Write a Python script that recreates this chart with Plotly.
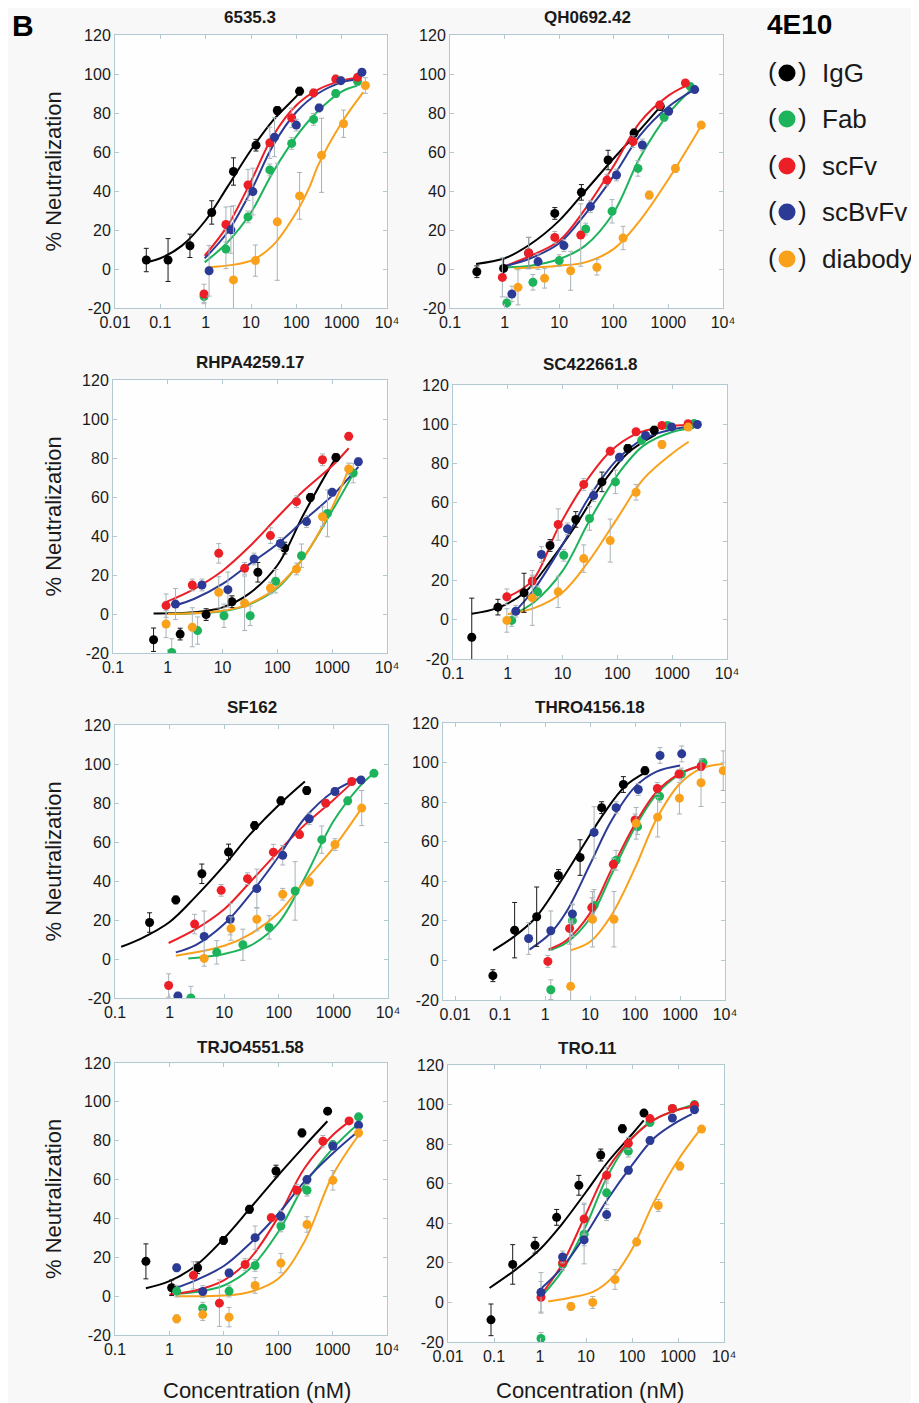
import plotly.graph_objects as go

W, H = 919, 1403
PAGE_OFFSET = 8  # default body margin of the html page
SERIES = ["IgG", "Fab", "scFv", "scBvFv", "diabody"]
COLORS = {"IgG": "#000000", "Fab": "#1db35b", "scFv": "#ec1f27",
          "scBvFv": "#2b3a94", "diabody": "#f9a11b"}
TITLES = ["6535.3", "QH0692.42", "RHPA4259.17", "SC422661.8",
          "SF162", "THRO4156.18", "TRJO4551.58", "TRO.11"]
Y_TICKS = [-20, 0, 20, 40, 60, 80, 100, 120]
Y_TICKTEXT = ["-20", "0", "20", "40", "60", "80", "100", "120"]
X_TICKS = [0.01, 0.1, 1, 10, 100, 1000, 10000]
X_TICKTEXT = ["0.01", "0.1", "1", "10", "100", "1000", "10\u2074"]

# ---------------- Panel 1: 6535.3 ----------------
P1_X = {"IgG": [0.049, 0.148, 0.45, 1.36, 4.1, 12.9, 38, 118],
        "Fab": [0.92, 2.8, 8.6, 26, 79, 240, 740, 2240],
        "scFv": [0.92, 2.8, 8.6, 26, 79, 240, 740, 2240],
        "scBvFv": [1.19, 3.6, 11, 33, 100, 318, 960, 2800],
        "diabody": [4.1, 12.5, 38, 118, 360, 1100, 3330]}
P1_Y = {"IgG": [4.6, 4.6, 11.9, 29, 50, 63.5, 81.3, 91.2],
        "Fab": [-14.1, 10.2, 26.7, 50.8, 64.4, 76.7, 90, 96.3],
        "scFv": [-12.8, 22.8, 43.1, 64.7, 77.5, 90.3, 97.4, 98.3],
        "scBvFv": [-0.9, 20.1, 39.7, 67.6, 73.8, 82.6, 96.6, 100.9],
        "diabody": [-5.6, 4.3, 24.2, 37.5, 58.3, 74.5, 94.1]}
P1_E = {"IgG": [6, 11, 6, 6, 7, 3, 2, 2],
        "Fab": [3, 10, 3, 3, 3, 3, 2, 2],
        "scFv": [5, 9, 8, 8, 5, 2, 2, 1],
        "scBvFv": [13, 12, 12, 10, 3, 2, 2, 1],
        "diabody": [38, 8, 30, 12, 19, 7, 4]}
P1_CX = {"IgG": [0.05, 0.1, 0.3, 1, 3, 10, 30, 100, 118],
         "Fab": [0.95, 3, 10, 30, 100, 300, 1000, 2200],
         "scFv": [0.95, 3, 10, 30, 100, 300, 1000, 2000],
         "scBvFv": [0.95, 3, 10, 30, 100, 300, 1000, 2500],
         "diabody": [1.1, 10, 30, 100, 200, 300, 1000, 3000]}
P1_CY = {"IgG": [3.5, 5.5, 12, 25, 42, 61, 76, 88.5, 90.5],
         "Fab": [3.4, 13.6, 29, 49.4, 68, 81, 91, 94],
         "scFv": [6.8, 22, 45, 68, 84, 92, 96.6, 98],
         "scBvFv": [5.5, 18.7, 40, 63, 80.5, 90, 95.7, 97.4],
         "diabody": [0.9, 4.3, 12, 29, 42.6, 53, 75, 90.7]}

# ---------------- Panel 2: QH0692.42 ----------------
P2_X = {"IgG": [0.31, 0.96, 2.76, 8.3, 25.5, 78.5, 235, 710],
        "Fab": [1.1, 3.3, 10, 30.6, 93, 277, 835, 2525],
        "scFv": [0.91, 2.76, 8.3, 24.8, 75, 225, 695, 2050],
        "scBvFv": [1.36, 4.1, 12.2, 37.3, 112, 333, 1010, 3030],
        "diabody": [1.76, 5.4, 16.2, 49, 148, 445, 1345, 4000]}
P2_Y = {"IgG": [-1.4, 0.3, 8.2, 28.5, 39.3, 55.9, 69.7, 83.4],
        "Fab": [-17.4, -6.8, 4.3, 20.5, 29.6, 51.6, 77.8, 93.5],
        "scFv": [-4.3, 8.2, 16.2, 17.4, 45.6, 65.3, 84.1, 95.4],
        "scBvFv": [-12.8, 3.8, 12, 32, 48.2, 63.6, 80.9, 92],
        "diabody": [-9.4, -4.8, -0.9, 0.9, 15.9, 37.9, 51.6, 73.8]}
P2_E = {"IgG": [3, 5, 8, 3, 4, 5, 2, 2],
        "Fab": [3, 4, 3, 3, 6, 4, 2, 2],
        "scFv": [10, 8, 3, 16, 3, 3, 2, 1],
        "scBvFv": [4, 4, 3, 3, 3, 3, 2, 1],
        "diabody": [9, 5, 10, 4, 6, 2, 2, 1]}
P2_CX = {"IgG": [0.3, 1, 3, 10, 30, 100, 300, 700],
         "Fab": [1, 3, 10, 30, 100, 300, 1000, 2500],
         "scFv": [1, 3, 10, 30, 100, 300, 1000, 2000],
         "scBvFv": [1, 3, 10, 30, 100, 300, 1000, 3000],
         "diabody": [1.5, 10, 30, 100, 300, 1000, 4000]}
P2_CY = {"IgG": [2.6, 5.5, 12.8, 24.8, 40, 56.8, 71.3, 83],
         "Fab": [0.9, 1.7, 5.1, 12, 29, 57, 79.5, 91.5],
         "scFv": [1.4, 6.8, 14.5, 30.8, 53, 75.2, 88.9, 93.7],
         "scBvFv": [1.4, 5.5, 13.2, 28.2, 47.9, 68.4, 83.2, 92],
         "diabody": [0.3, 1.7, 3.4, 10.3, 24.8, 46, 73.5]}

# ---------------- Panel 3: RHPA4259.17 ----------------
P3_X = {"IgG": [0.55, 1.68, 5.0, 14.8, 44, 136, 400, 1170],
        "Fab": [1.18, 3.5, 10.6, 31.9, 93, 275, 820, 2420],
        "scFv": [0.93, 2.8, 8.5, 25.2, 74.6, 223, 665, 2000],
        "scBvFv": [1.38, 4.2, 12.5, 37.5, 113, 340, 1000, 3000],
        "diabody": [0.93, 2.8, 8.5, 25.2, 74.6, 223, 665, 2000]}
P3_Y = {"IgG": [-13.2, -10.3, -0.3, 6.3, 21.4, 33.8, 59.8, 80.3],
        "Fab": [-19.7, -8.5, -0.9, -0.9, 16.8, 29.9, 51.6, 72.3],
        "scFv": [4.3, 14.9, 31.1, 23.4, 40.2, 57.6, 79.1, 91.1],
        "scBvFv": [5.1, 14.9, 12.5, 28.2, 36.2, 47.4, 62.4, 78.1],
        "diabody": [-5.1, -6.8, 11.1, 5.5, 13.3, 23.1, 49.9, 74.4]}
P3_E = {"IgG": [6, 3, 3, 3, 5, 3, 2, 2],
        "Fab": [7, 7, 6, 5, 6, 6, 12, 5],
        "scFv": [6, 3, 5, 3, 4, 3, 3, 2],
        "scBvFv": [8, 3, 9, 3, 3, 3, 2, 2],
        "diabody": [7, 10, 8, 14, 3, 3, 5, 3]}
P3_CX = {"IgG": [0.55, 3, 10, 30, 100, 300, 1000, 1200],
         "Fab": [1, 10, 30, 100, 300, 1000, 2500],
         "scFv": [0.9, 3, 10, 30, 100, 300, 1000, 2000],
         "scBvFv": [1.3, 3, 10, 30, 100, 300, 1000, 3000],
         "diabody": [1, 10, 30, 100, 300, 1000, 2000]}
P3_CY = {"IgG": [0.3, 0.9, 3.4, 10.3, 25, 51, 77, 80.3],
         "Fab": [0, 1.4, 4.8, 13.3, 29, 53, 72.6],
         "scFv": [6, 12.8, 22.2, 34.2, 49.6, 63.2, 76, 85],
         "scBvFv": [4.3, 7.7, 15.4, 25.3, 35.9, 47.9, 60.7, 75.5],
         "diabody": [0, 1.7, 5.1, 14, 29, 54.7, 74.4]}

# ---------------- Panel 4: SC422661.8 ----------------
P4_X = {"IgG": [0.22, 0.66, 1.98, 5.9, 17.4, 52.2, 155, 470],
        "Fab": [1.18, 3.5, 10.5, 31, 92, 277, 825, 2500],
        "scFv": [0.96, 2.8, 8.3, 24.3, 74, 219, 650, 1950],
        "scBvFv": [1.4, 4.1, 12.3, 36.8, 109, 326, 980, 2880],
        "diabody": [0.96, 2.8, 8.3, 24.3, 74, 219, 650, 1950]}
P4_Y = {"IgG": [-8.9, 6.5, 13.8, 38, 51.3, 70.5, 87.6, 96.9],
        "Fab": [-0.3, 14.3, 33, 51.8, 70.5, 91.8, 99.3, 100.3],
        "scFv": [11.8, 19.8, 48.7, 69.2, 86.2, 96.1, 99.3, 100.2],
        "scBvFv": [4.4, 33.4, 46.5, 63.5, 83.1, 94.2, 98.6, 99.8],
        "diabody": [-0.3, 11.2, 14.3, 31.3, 40.5, 65.2, 89.6, 98.5]}
P4_E = {"IgG": [20, 4, 10, 3, 4, 5, 2, 2],
        "Fab": [3, 3, 3, 6, 6, 2, 1, 1],
        "scFv": [4, 3, 8, 3, 2, 1, 1, 1],
        "scBvFv": [3, 4, 3, 3, 2, 1, 1, 1],
        "diabody": [6, 14, 8, 7, 11, 4, 2, 1]}
P4_CX = {"IgG": [0.22, 0.66, 2, 6, 17, 52, 155, 500],
         "Fab": [1.2, 3, 10, 30, 100, 300, 1000, 2500],
         "scFv": [0.96, 2.8, 8.3, 24.3, 74, 219, 650, 2000],
         "scBvFv": [1.2, 3, 10, 30, 100, 300, 1000, 3000],
         "diabody": [1, 3, 10, 30, 100, 300, 1000, 2000]}
P4_CY = {"IgG": [3.1, 6.1, 13.8, 30, 47.9, 69.2, 85.3, 94.7],
         "Fab": [2.5, 9, 25, 50, 74, 89, 96, 98],
         "scFv": [11.5, 20, 47, 69, 86, 95, 98.5, 99.5],
         "scBvFv": [2.7, 15.5, 38.5, 62.4, 82, 92.5, 97.3, 99],
         "diabody": [3, 6, 14, 30, 52, 72, 85, 91]}

# ---------------- Panel 5: SF162 ----------------
P5_X = {"IgG": [0.43, 1.3, 3.9, 12, 36, 109, 325],
        "Fab": [2.45, 7.3, 22, 66.6, 199, 612, 1830, 5530],
        "scFv": [0.96, 2.87, 8.8, 26.7, 79.6, 240, 725, 2170],
        "scBvFv": [1.42, 4.3, 12.9, 39.6, 118, 360, 1070, 3200],
        "diabody": [4.3, 13.3, 39.6, 118, 363, 1070, 3300]}
P5_Y = {"IgG": [18.7, 30.3, 43.7, 54.9, 68.4, 81.1, 86.4],
        "Fab": [-20, 3.4, 7.3, 16.2, 34.9, 61.2, 81.1, 95.2],
        "scFv": [-13.6, 17.9, 35.2, 41.2, 54.8, 63.8, 79.9, 91],
        "scBvFv": [-19, 11.6, 20.4, 36.1, 53.2, 71.9, 85.9, 91.8],
        "diabody": [0.3, 15.6, 20.4, 33.2, 39.5, 58.7, 77.4]}
P5_E = {"IgG": [5, 2, 5, 4, 2, 2, 2],
        "Fab": [6, 6, 8, 6, 15, 7, 2, 1],
        "scFv": [6, 5, 3, 3, 4, 2, 2, 1],
        "scBvFv": [2, 13, 8, 10, 5, 3, 2, 1],
        "diabody": [4, 6, 6, 3, 2, 3, 9]}
P5_CX = {"IgG": [0.13, 0.3, 1, 3, 10, 30, 100, 300],
         "Fab": [2.2, 10, 30, 100, 300, 1000, 3000, 5000],
         "scFv": [0.96, 3, 10, 30, 100, 300, 1000, 2000],
         "scBvFv": [1.3, 3, 10, 30, 100, 300, 1000, 3000],
         "diabody": [1.3, 10, 30, 100, 300, 1000, 3000]}
P5_CY = {"IgG": [6.3, 10.5, 19, 32, 48, 64, 79, 91],
         "Fab": [0.3, 2.6, 6.8, 18.7, 41.7, 70.6, 88.4, 94.4],
         "scFv": [8.2, 15.3, 25.5, 39.5, 55.3, 68.9, 81.6, 89.3],
         "scBvFv": [3.4, 7.1, 17.9, 33.2, 52.7, 72.3, 85.9, 92.7],
         "diabody": [1.7, 6.8, 12.8, 23.8, 40, 57, 75.7]}

# ---------------- Panel 6: THRO4156.18 ----------------
P6_X = {"IgG": [0.069, 0.21, 0.65, 1.98, 6.0, 18.1, 55, 166],
        "Fab": [1.34, 4.05, 12.3, 37.9, 114, 350, 1070, 3250],
        "scFv": [1.15, 3.5, 10.9, 33, 100, 313, 950, 2930],
        "scBvFv": [0.43, 1.34, 4.05, 12.3, 37.9, 118, 359, 1090],
        "diabody": [3.7, 11.3, 34, 106, 318, 970, 2930, 9130]}
P6_Y = {"IgG": [-7.7, 15.3, 22.1, 42.9, 52, 77.2, 88.9, 95.9],
        "Fab": [-14.8, 20.1, 27.8, 50.6, 67.6, 83, 94.2, 100],
        "scFv": [-0.5, 16.2, 26.7, 48.6, 71, 86.9, 94.2, 98],
        "scBvFv": [11.1, 15, 23.5, 64.7, 77.2, 86.4, 103.6, 104.4],
        "diabody": [-13.1, 20.8, 20.8, 69.3, 72.4, 82, 89.8, 95.9]}
P6_E = {"IgG": [3, 14, 15, 3, 9, 3, 4, 2],
        "Fab": [5, 8, 8, 5, 4, 3, 3, 2],
        "scFv": [3, 8, 5, 3, 3, 3, 2, 2],
        "scBvFv": [8, 10, 5, 13, 3, 3, 4, 4],
        "diabody": [33, 14, 14, 8, 10, 8, 12, 10]}
P6_CX = {"IgG": [0.07, 0.2, 0.6, 2, 6, 20, 60, 170],
         "Fab": [1.2, 3, 10, 30, 100, 300, 1000, 3000],
         "scFv": [1.2, 3, 10, 30, 100, 300, 1000, 3000],
         "scBvFv": [0.45, 1.3, 3, 10, 30, 100, 300, 1000],
         "diabody": [3.7, 10, 30, 100, 300, 1000, 3000, 9000]}
P6_CY = {"IgG": [5.1, 11.9, 21.3, 38.3, 55.4, 74.1, 88, 95],
         "Fab": [5.1, 9, 21.3, 43.4, 67.3, 84, 94.2, 98.5],
         "scFv": [5.6, 10.2, 23.9, 46, 69, 85.2, 94.5, 98.5],
         "scBvFv": [5.5, 13.6, 24.7, 48.6, 70.7, 87.7, 95.4, 98.5],
         "diabody": [5.1, 9.4, 23, 46.8, 71.5, 89.4, 97.1, 99.3]}

# ---------------- Panel 7: TRJO4551.58 ----------------
P7_X = {"IgG": [0.37, 1.1, 3.3, 9.9, 29.6, 91, 273, 810],
        "Fab": [1.36, 4.1, 12.5, 37.6, 112, 338, 1010, 3000],
        "scFv": [2.76, 8.3, 24.7, 74.5, 220, 664, 2010],
        "scBvFv": [1.36, 4.1, 12.5, 37.6, 112, 338, 1010, 3000],
        "diabody": [1.36, 4.1, 12.5, 37.6, 112, 338, 1010, 3000]}
P7_Y = {"IgG": [17.9, 4.3, 14.6, 28.7, 44.7, 64.4, 84, 95.2],
        "Fab": [2.6, -6.2, 2.6, 15.8, 36.1, 54.5, 78, 92.3],
        "scFv": [10.7, -3.6, 16.3, 40.4, 54.5, 79.7, 90.2],
        "scBvFv": [14.6, 2.4, 11.9, 30.1, 41.1, 60, 77.3, 88],
        "diabody": [-11.7, -9.5, -10.8, 5.5, 17, 36.9, 59.6, 84]}
P7_E = {"IgG": [9, 4, 3, 2, 2, 3, 2, 1],
        "Fab": [3, 3, 3, 3, 3, 3, 2, 1],
        "scFv": [7, 12, 3, 2, 3, 3, 1],
        "scBvFv": [2, 3, 2, 6, 3, 2, 2, 1],
        "diabody": [2, 3, 5, 4, 5, 4, 5, 2]}
P7_CX = {"IgG": [0.37, 1, 3, 10, 30, 100, 300, 800],
         "Fab": [1.3, 3, 10, 30, 100, 300, 1000, 3000],
         "scFv": [1, 3, 10, 30, 100, 300, 1000, 2000],
         "scBvFv": [1.3, 3, 10, 30, 100, 300, 1000, 3000],
         "diabody": [1.3, 10, 30, 100, 300, 1000, 3000]}
P7_CY = {"IgG": [4.1, 7.7, 15.5, 29.6, 45, 62.2, 77.1, 90],
         "Fab": [1.2, 2.1, 5.5, 14.1, 33, 57, 75.9, 88.8],
         "scFv": [0.9, 2.9, 8.1, 19.2, 40.7, 65.6, 82.8, 89.7],
         "scBvFv": [4.1, 8.1, 15.5, 27, 42.4, 58.8, 73.4, 85],
         "diabody": [0, 0.3, 2.1, 8.9, 27.8, 62.2, 82.8]}

# ---------------- Panel 8: TRO.11 ----------------
P8_X = {"IgG": [0.086, 0.255, 0.78, 2.3, 7.0, 20.9, 61.8, 182],
        "Fab": [1.05, 3.1, 9.1, 28.1, 83.4, 246, 755, 2280],
        "scFv": [1.05, 3.1, 9.1, 28.1, 83.4, 246, 755, 2280],
        "scBvFv": [1.05, 3.1, 9.1, 28.1, 83.4, 246, 755, 2280],
        "diabody": [4.7, 14, 42.7, 126, 373, 1100, 3250]}
P8_Y = {"IgG": [-8.8, 19.2, 28.9, 43, 59.2, 74.5, 87.8, 95.7],
        "Fab": [-18.2, 19.2, 34.5, 55.4, 76.5, 91, 98, 100],
        "scFv": [2.6, 20.1, 42.2, 64.3, 80.4, 92.9, 98, 99.7],
        "scBvFv": [5.1, 23, 31.6, 44.4, 66.8, 81.8, 93.2, 97.4],
        "diabody": [-2, 0, 11.6, 30.6, 49, 68.9, 87.6]}
P8_E = {"IgG": [8, 10, 4, 4, 5, 3, 2, 1],
        "Fab": [3, 3, 15, 6, 3, 2, 1, 1],
        "scFv": [8, 3, 8, 4, 3, 1, 1, 1],
        "scBvFv": [10, 3, 3, 3, 2, 2, 1, 1],
        "diabody": [2, 3, 5, 2, 3, 2, 1]}
P8_CX = {"IgG": [0.08, 0.3, 1, 3, 10, 30, 100, 180],
         "Fab": [1, 3, 10, 30, 100, 300, 1000, 2000],
         "scFv": [1, 3, 10, 30, 100, 300, 1000, 2000],
         "scBvFv": [1, 3, 10, 30, 100, 300, 1000, 2000],
         "diabody": [1.5, 5, 15, 40, 100, 300, 1000, 3000]}
P8_CY = {"IgG": [7.3, 16.7, 26.9, 39.6, 55.8, 71.1, 85, 92],
         "Fab": [2.2, 15.8, 38.8, 64.3, 83, 92.3, 97.4, 99.7],
         "scFv": [3.1, 19.2, 44.7, 67.7, 83, 92.3, 97.4, 98.8],
         "scBvFv": [6.5, 17.5, 34.5, 52.4, 69.4, 83, 91.5, 95.2],
         "diabody": [0.5, 2.6, 5.6, 13.3, 26.9, 50.7, 71.9, 87.2]}

PANEL_DATA = [(P1_X, P1_Y, P1_E, P1_CX, P1_CY), (P2_X, P2_Y, P2_E, P2_CX, P2_CY),
              (P3_X, P3_Y, P3_E, P3_CX, P3_CY), (P4_X, P4_Y, P4_E, P4_CX, P4_CY),
              (P5_X, P5_Y, P5_E, P5_CX, P5_CY), (P6_X, P6_Y, P6_E, P6_CX, P6_CY),
              (P7_X, P7_Y, P7_E, P7_CX, P7_CY), (P8_X, P8_Y, P8_E, P8_CX, P8_CY)]

# ---------------- layout (pixels in the 919x1403 window) ----------------
X_RANGES = [[-2, 4], [-1, 4], [-1, 4], [-1, 4], [-1, 4], [-2.27, 4], [-1, 4], [-2, 4]]
BOX_X = [(115, 387), (450, 723), (113, 387), (453, 727),
         (115, 388), (443, 725), (115, 387), (448, 724)]
BOX_Y = [(35, 308), (35, 308), (380, 653), (385, 659),
         (725, 998), (723, 1000), (1063, 1335), (1065, 1342)]
TITLE_POS = [(250, 17), (587, 17), (250, 362), (590, 365),
             (252, 707), (590, 707), (250, 1047), (587, 1048)]

FONT = "Arial, 'Liberation Sans', Helvetica, sans-serif"
AXIS_COLOR = "#b3c9d1"
TEXT_COLOR = "#1a1a1a"

FIG_W = W - PAGE_OFFSET
FIG_H = H - PAGE_OFFSET


def px_x(p):
    return (p - PAGE_OFFSET) / FIG_W


def px_y(p):
    return 1 - (p - PAGE_OFFSET) / FIG_H


fig = go.Figure()
layout = dict(
    width=FIG_W, height=FIG_H, autosize=False,
    margin=dict(l=0, r=0, t=0, b=0, pad=0, autoexpand=False),
    paper_bgcolor="#f8f8f8", plot_bgcolor="#fefefe",
    showlegend=False, font=dict(family=FONT, color=TEXT_COLOR, size=16),
)
annotations = []
shapes = []

for i, (px, py, pe, pcx, pcy) in enumerate(PANEL_DATA):
    n = i + 1
    xa = "x" if n == 1 else f"x{n}"
    ya = "y" if n == 1 else f"y{n}"
    # fitted curves
    for s in SERIES:
        fig.add_trace(go.Scatter(
            x=pcx[s], y=pcy[s], mode="lines", xaxis=xa, yaxis=ya,
            line=dict(color=COLORS[s], width=2, shape="spline", smoothing=1.0),
            hoverinfo="skip"))
    # data points with error bars
    for s in SERIES:
        fig.add_trace(go.Scatter(
            x=px[s], y=py[s], mode="markers", xaxis=xa, yaxis=ya, name=s,
            marker=dict(color=COLORS[s], size=9, line=dict(width=0)),
            error_y=dict(type="data", array=pe[s], visible=True, thickness=1,
                         width=2.5,
                         color="#1a1a1a" if s == "IgG" else "#a9b3b8")))
    x0, x1 = BOX_X[i]
    y0, y1 = BOX_Y[i]
    layout[f"xaxis{'' if n == 1 else n}"] = dict(
        type="log", range=X_RANGES[i], domain=[px_x(x0), px_x(x1)],
        anchor=ya, tickvals=X_TICKS, ticktext=X_TICKTEXT, automargin=False,
        showgrid=False, zeroline=False, showline=True, mirror="ticks",
        linecolor=AXIS_COLOR, linewidth=1, ticks="inside", ticklen=4,
        tickcolor=AXIS_COLOR, tickfont=dict(size=16, family=FONT, color=TEXT_COLOR))
    layout[f"yaxis{'' if n == 1 else n}"] = dict(
        range=[-20, 120], domain=[px_y(y1), px_y(y0)], anchor=xa,
        tickvals=Y_TICKS, ticktext=Y_TICKTEXT, automargin=False,
        showgrid=False, zeroline=False, showline=True, mirror="ticks",
        linecolor=AXIS_COLOR, linewidth=1, ticks="inside", ticklen=4,
        tickcolor=AXIS_COLOR, tickfont=dict(size=16, family=FONT, color=TEXT_COLOR))
    tx, ty = TITLE_POS[i]
    annotations.append(dict(text=f"<b>{TITLES[i]}</b>", x=px_x(tx), y=px_y(ty),
                            xref="paper", yref="paper", showarrow=False,
                            xanchor="center", yanchor="middle",
                            font=dict(size=17, family=FONT, color=TEXT_COLOR)))
    if i % 2 == 0:
        annotations.append(dict(text="% Neutralization", x=px_x(53),
                                y=px_y((y0 + y1) / 2), xref="paper", yref="paper",
                                showarrow=False, textangle=-90,
                                xanchor="center", yanchor="middle",
                                font=dict(size=22, family=FONT, color=TEXT_COLOR)))

for cx in (257, 590):
    annotations.append(dict(text="Concentration (nM)", x=px_x(cx), y=px_y(1390),
                            xref="paper", yref="paper", showarrow=False,
                            xanchor="center", yanchor="middle",
                            font=dict(size=22, family=FONT, color=TEXT_COLOR)))

annotations.append(dict(text="<b>B</b>", x=px_x(23), y=px_y(PAGE_OFFSET + 0.5),
                        xref="paper", yref="paper", showarrow=False, borderpad=0,
                        xanchor="center", yanchor="top",
                        font=dict(size=30, family=FONT, color="#000")))
annotations.append(dict(text="<b>4E10</b>", x=px_x(766), y=px_y(PAGE_OFFSET + 0.5),
                        xref="paper", yref="paper", showarrow=False, borderpad=0,
                        xanchor="left", yanchor="top",
                        font=dict(size=28, family=FONT, color="#000")))

LEGEND_ROWS = [73, 119, 166, 212, 259]
for s, ry in zip(SERIES, LEGEND_ROWS):
    for ptxt, pxx in (("(", 772), (")", 802)):
        annotations.append(dict(text=ptxt, x=px_x(pxx), y=px_y(ry - 1), xref="paper",
                                yref="paper", showarrow=False, xanchor="center",
                                yanchor="middle",
                                font=dict(size=26, family=FONT, color=TEXT_COLOR)))
    annotations.append(dict(text=s, x=px_x(820), y=px_y(ry), xref="paper",
                            yref="paper", showarrow=False, xanchor="left",
                            yanchor="middle",
                            font=dict(size=26, family=FONT, color=TEXT_COLOR)))
    shapes.append(dict(type="circle", xref="paper", yref="paper",
                       x0=px_x(787 - 8.5), x1=px_x(787 + 8.5),
                       y0=px_y(ry + 8.5), y1=px_y(ry - 8.5),
                       fillcolor=COLORS[s], line=dict(width=0)))

layout["annotations"] = annotations
layout["shapes"] = shapes
fig.update_layout(**layout)
fig.write_html("out.html", config={"responsive": False})
